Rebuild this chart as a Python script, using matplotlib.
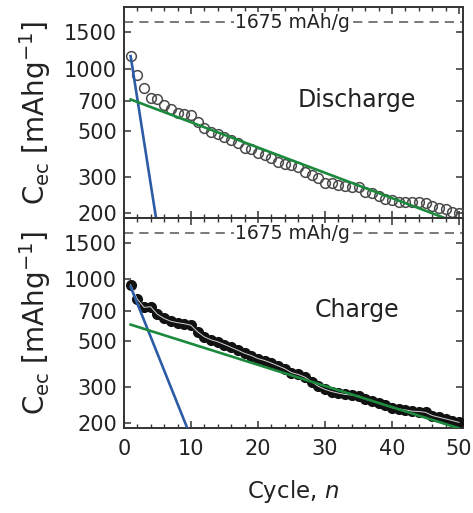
import numpy as np
import matplotlib.pyplot as plt
from matplotlib.ticker import FixedLocator, NullLocator, MultipleLocator, NullFormatter

plt.rcParams['font.family'] = ['DejaVu Sans']
plt.rcParams['mathtext.fontset'] = 'dejavusans'

# cycle number
cycles = np.arange(1, 51)

# discharge capacity (mAh/g)
discharge = [1150, 928, 804, 722, 716, 665, 636, 608, 605, 595,
             550, 515, 492, 485, 466, 450, 436, 416, 408, 390,
             382, 369, 353, 348, 342, 336, 316, 305, 295, 282,
             279, 273, 270, 267, 268, 253, 250, 242, 236, 231,
             226, 226, 228, 226, 224, 218, 213, 211, 204, 200]

# charge capacity (mAh/g)
charge = [940, 800, 730, 735, 675, 645, 625, 615, 608, 598,
          555, 525, 508, 497, 482, 467, 452, 437, 426, 412,
          403, 392, 380, 368, 352, 345, 335, 318, 302, 292,
          285, 280, 276, 274, 272, 262, 257, 250, 244, 238,
          235, 232, 229, 228, 226, 218, 214, 210, 206, 202]

# exponential fits (straight lines on log axis), given by end points
dis_fast_n, dis_fast_c = [1, 5], [1150, 172]
dis_slow_n, dis_slow_c = [1, 50], [710, 179]
chg_fast_n, chg_fast_c = [1, 10], [918, 171]
chg_slow_n, chg_slow_c = [1, 50], [602, 189]

theory = 1675
ytick_vals = [200, 300, 500, 700, 1000, 1500]

blue = '#2d5ca6'
green = '#1b8a3c'

fig = plt.figure(figsize=(4.73, 5.13), dpi=100)
ax1 = fig.add_axes([0.262, 0.575, 0.717, 0.411])
ax2 = fig.add_axes([0.262, 0.166, 0.717, 0.409])


def style(ax):
    ax.set_yscale('log')
    ax.set_ylim(190, 1980)
    ax.set_xlim(0, 50.6)
    ax.yaxis.set_major_locator(FixedLocator(ytick_vals))
    ax.yaxis.set_minor_locator(NullLocator())
    ax.set_yticklabels([str(v) for v in ytick_vals])
    ax.yaxis.set_minor_formatter(NullFormatter())
    ax.xaxis.set_major_locator(MultipleLocator(10))
    ax.xaxis.set_minor_locator(MultipleLocator(2))
    ax.tick_params(which='both', direction='in', top=True, right=True,
                   color='#333333', labelsize=15, labelcolor='#222222')
    ax.tick_params(which='major', length=5, width=1.1)
    ax.tick_params(which='minor', length=3, width=1.0)
    ax.tick_params(axis='x', pad=8)
    ax.tick_params(axis='y', pad=5)
    for s in ax.spines.values():
        s.set_linewidth(1.4)
        s.set_color('#333333')
    ax.axhline(theory, color='#555555', lw=1.1, dashes=(6, 4), zorder=1)
    ax.text(0.496, theory, '1675 mAh/g', transform=ax.get_yaxis_transform(),
            ha='center', va='center', fontsize=13.5, color='#222222',
            bbox=dict(facecolor='white', edgecolor='none', pad=0.5), zorder=2)
    ax.set_ylabel(r'C$_{\rm ec}$ [mAhg$^{-1}$]', fontsize=20, labelpad=8,
                  color='#222222')


style(ax1)
ax1.plot(cycles, discharge, 'o', ms=7, mfc='none', mec='#4a4a4a', mew=1.1, zorder=3)
ax1.plot(dis_fast_n, dis_fast_c, color=blue, lw=1.9, zorder=4)
ax1.plot(dis_slow_n, dis_slow_c, color=green, lw=1.9, zorder=4)
ax1.text(0.687, 0.559, 'Discharge', transform=ax1.transAxes,
         ha='center', va='center', fontsize=17, color='#222222')
ax1.tick_params(axis='x', labelbottom=False)

style(ax2)
ax2.plot(cycles, charge, 'o', ms=7, mfc='#111111', mec='#111111', zorder=3)
ax2.plot(cycles, charge, '-', color='#d4d4d4', lw=0.7, zorder=3.5)
ax2.plot(chg_fast_n, chg_fast_c, color=blue, lw=1.9, zorder=4)
ax2.plot(chg_slow_n, chg_slow_c, color=green, lw=1.9, zorder=4)
ax2.text(0.687, 0.562, 'Charge', transform=ax2.transAxes,
         ha='center', va='center', fontsize=17, color='#222222')
ax2.set_xlabel(r'Cycle, $n$', fontsize=16.5, labelpad=14, color='#222222')

fig.savefig('out.png', dpi=100)
